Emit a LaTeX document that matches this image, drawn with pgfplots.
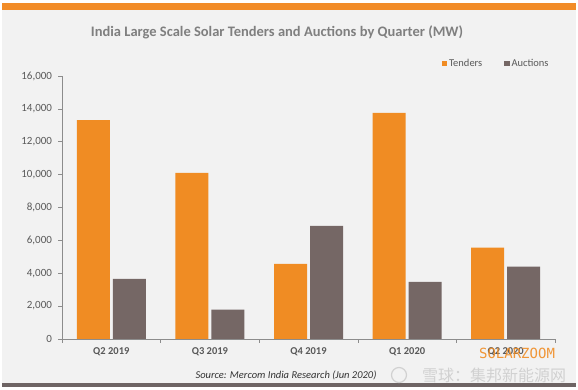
\documentclass[border=0pt]{standalone}
\usepackage{pgfplots}
\pgfplotsset{compat=1.18}
\usepackage{fontspec}
\setmainfont{Carlito}
\newfontfamily\cjk{Noto Sans CJK SC}
\newfontfamily\wmfont{DejaVu Sans Mono}
\definecolor{bgc}{HTML}{F2F2F2}
\definecolor{tend}{HTML}{F08C23}
\definecolor{auct}{HTML}{756765}
\definecolor{topband}{HTML}{F28C28}
\definecolor{botband}{HTML}{6E6464}
\definecolor{axisc}{HTML}{8C8C8C}
\definecolor{tickc}{HTML}{595959}
\definecolor{titlec}{HTML}{7F7F7F}
\begin{document}
\begin{tikzpicture}
\fill[white] (0,0) rectangle (578pt,390pt);
\fill[bgc] (2pt,3pt) rectangle (576pt,387pt);
\fill[topband] (2pt,379.5pt) rectangle (576pt,386.7pt);
\fill[botband] (2pt,3.3pt) rectangle (576pt,7.3pt);
\begin{axis}[
  at={(62pt,51pt)}, anchor=south west,
  scale only axis, width=493pt, height=263pt,
  ybar=3pt, bar width=33pt,
  xmin=-0.5, xmax=4.5, ymin=0, ymax=16000,
  axis x line*=bottom, axis y line*=left,
  axis line style={axisc, line width=0.8pt},
  every tick/.style={axisc, line width=0.6pt},
  tick align=outside, major tick length=4pt,
  xtick={-0.5,0.5,1.5,2.5,3.5,4.5}, xticklabels={},
  extra x ticks={0,1,2,3,4},
  extra x tick labels={Q2 2019,Q3 2019,Q4 2019,Q1 2020,Q2 2020},
  extra x tick style={tick style={draw=none},
    tick label style={font=\fontsize{10.5}{12}\selectfont\bfseries, text=tickc, yshift=-1pt}},
  ytick={0,2000,...,16000},
  scaled y ticks=false,
  yticklabel style={font=\fontsize{11}{13}\selectfont, text=tickc, xshift=-2.5pt},
  /pgf/number format/.cd, fixed, 1000 sep={,}, assume math mode=true,
  /pgfplots/.cd,
  legend style={at={(rel axis cs:0.764,1.046)}, anchor=west, draw=none, fill=none,
    font=\fontsize{10.5}{12}\selectfont, text=tickc, legend columns=2,
    /tikz/every even column/.append style={column sep=20pt}},
  legend image code/.code={\fill[#1,draw=none] (0pt,-2.6pt) rectangle (5.2pt,2.6pt);},
]
\addplot[fill=tend, draw=none] coordinates {(0,13310) (1,10110) (2,4570) (3,13750) (4,5560)};
\addplot[fill=auct, draw=none] coordinates {(0,3660) (1,1780) (2,6880) (3,3480) (4,4410)};
\legend{Tenders, Auctions}
\end{axis}
\node[font=\fontsize{14.5}{17}\selectfont\bfseries, text=titlec] at (277pt,358pt) {India Large Scale Solar Tenders and Auctions by Quarter (MW)};
\node[font=\fontsize{10.5}{12}\selectfont\itshape, text=black!80] at (286pt,15pt) {Source: Mercom India Research (Jun 2020)};
\node[font=\wmfont\fontsize{14}{16}\selectfont, text=tend, opacity=0.9] at (517pt,37pt) {SOLARZOOM};
\node[font=\cjk\fontsize{16}{18}\selectfont, text=black!18] at (494pt,15pt) {雪球：集邦新能源网};
\draw[black!18, line width=1.2pt] (399pt,15pt) circle (7.5pt);
\pgfresetboundingbox
\useasboundingbox (0,0) rectangle (578pt,390pt);
\end{tikzpicture}
\end{document}
